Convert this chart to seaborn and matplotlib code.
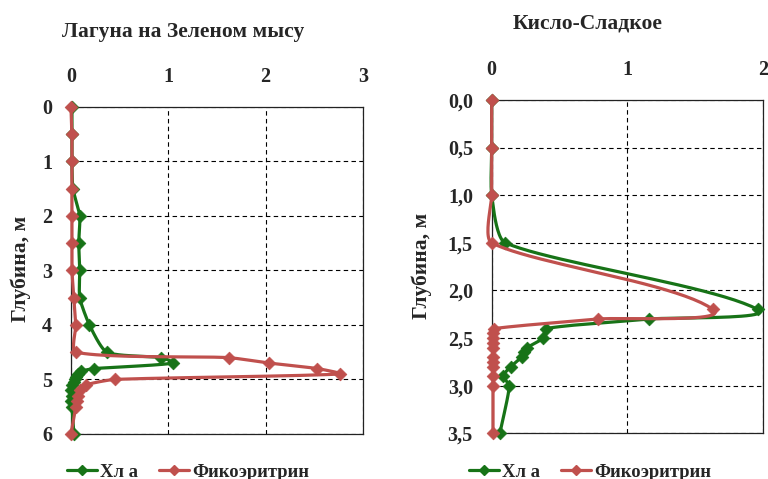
import numpy as np
import pandas as pd
import matplotlib
matplotlib.use("Agg")
import matplotlib.pyplot as plt
import seaborn as sns
from matplotlib.lines import Line2D
from matplotlib.ticker import FuncFormatter

# ---------------- data ----------------
left_title = "Лагуна на Зеленом мысу"
right_title = "Кисло-Сладкое"
series_names = ["Хл а", "Фикоэритрин"]
ylabel = "Глубина, м"

left_depth_chl = [0, 0.5, 1, 1.5, 2, 2.5, 3, 3.5, 4, 4.5, 4.6, 4.7, 4.8, 4.85, 4.9,
                  4.95, 5.0, 5.05, 5.1, 5.2, 5.3, 5.4, 5.5, 6.0]
left_chl = [0.01, 0.01, 0.01, 0.02, 0.09, 0.08, 0.09, 0.09, 0.19, 0.37, 0.93, 1.05, 0.24,
            0.10, 0.07, 0.05, 0.04, 0.03, 0.01, 0.0, 0.01, 0.0, 0.01, 0.03]
left_depth_phy = [0, 0.5, 1, 1.5, 2, 2.5, 3, 3.5, 4, 4.5, 4.6, 4.7, 4.8, 4.9, 5.0,
                  5.1, 5.2, 5.3, 5.4, 5.5, 6.0]
left_phy = [0.0, 0.01, 0.01, 0.01, 0.01, 0.01, 0.01, 0.03, 0.05, 0.05, 1.62, 2.04, 2.53,
            2.77, 0.45, 0.15, 0.09, 0.07, 0.06, 0.05, 0.0]

right_depth_chl = [0, 0.5, 1.0, 1.5, 2.2, 2.3, 2.4, 2.5, 2.6, 2.65, 2.7, 2.8, 2.9, 3.0, 3.5]
right_chl = [0, 0, 0, 0.10, 1.96, 1.16, 0.40, 0.38, 0.26, 0.24, 0.22, 0.14, 0.085, 0.13, 0.06]
right_depth_phy = [0, 0.5, 1.0, 1.5, 2.2, 2.3, 2.4, 2.45, 2.5, 2.55, 2.6, 2.7, 2.75,
                   2.8, 2.9, 3.0, 3.5]
right_phy = [0, 0, 0, 0, 1.63, 0.78, 0.02, 0.01, 0.01, 0.01, 0.01, 0.01, 0.01,
             0.01, 0.01, 0.01, 0.01]

left_xticks = [0, 1, 2, 3]
left_yticks = [0, 1, 2, 3, 4, 5, 6]
right_xticks = [0, 1, 2]
right_yticks = [0.0, 0.5, 1.0, 1.5, 2.0, 2.5, 3.0, 3.5]

GREEN = "#177317"
RED = "#C0504D"

sns.set_style("white")
plt.rcParams["font.family"] = ["Liberation Serif", "DejaVu Serif"]
plt.rcParams["font.weight"] = "bold"


def smooth(x, y, sx, sy, n=24, k=0.2):
    """Excel-like smoothed line in screen-scaled space (length-limited Bezier)."""
    P = np.column_stack([np.asarray(x, float) * sx, np.asarray(y, float) * sy])
    m = len(P)
    tang = []
    for i in range(m):
        a = P[i - 1] if i > 0 else P[i]
        b = P[i + 1] if i + 1 < m else P[i]
        d = b - a
        nrm = np.hypot(*d)
        tang.append(d / nrm if nrm > 0 else np.zeros(2))
    out = [P[0]]
    t = np.linspace(0, 1, n)[1:, None]
    for i in range(m - 1):
        p1, p2 = P[i], P[i + 1]
        L = np.hypot(*(p2 - p1))
        c1 = p1 + tang[i] * L * k
        c2 = p2 - tang[i + 1] * L * k
        seg = ((1 - t) ** 3) * p1 + 3 * ((1 - t) ** 2) * t * c1 + 3 * (1 - t) * t ** 2 * c2 + t ** 3 * p2
        out.extend(seg)
    out = np.array(out)
    return out[:, 0] / sx, out[:, 1] / sy


fig = plt.figure(figsize=(7.68, 4.79), dpi=100)
axL = fig.add_axes([0.0924, 0.094, 0.380, 0.683])
axR = fig.add_axes([0.6402, 0.0954, 0.3537, 0.6959])

TICK_FS = 14.5


def draw(ax, dc, vc, dp, vp, xlim, ylim, xticks, yticks, sx, sy, fmt):
    for d, v, col, z in [(dc, vc, GREEN, 3), (dp, vp, RED, 4)]:
        xs, ys = smooth(v, d, sx, sy)
        df = pd.DataFrame({"v": xs, "d": ys})
        sns.lineplot(data=df, x="v", y="d", sort=False, estimator=None, ax=ax,
                     color=col, lw=2.3, zorder=z, clip_on=False)
        pts = pd.DataFrame({"v": v, "d": d})
        sns.scatterplot(data=pts, x="v", y="d", ax=ax, marker="D", s=42, color=col,
                        edgecolor=col, linewidth=0.5, zorder=z + 0.5, clip_on=False)
    ax.set_xlim(*xlim)
    ax.set_ylim(*ylim)
    ax.xaxis.tick_top()
    ax.set_xticks(xticks)
    ax.set_yticks(yticks)
    ax.xaxis.set_major_formatter(FuncFormatter(lambda v, p: f"{v:.0f}"))
    ax.yaxis.set_major_formatter(FuncFormatter(fmt))
    ax.tick_params(axis="both", length=0, labelsize=TICK_FS)
    ax.tick_params(axis="x", pad=14.6)
    ax.tick_params(axis="y", pad=13.5)
    for lab in ax.get_xticklabels() + ax.get_yticklabels():
        lab.set_fontweight("bold")
    ax.grid(True, linestyle=(0, (4, 3)), color="black", lw=0.8)
    for sp in ax.spines.values():
        sp.set_visible(True)
        sp.set_color("#222222")
        sp.set_linewidth(0.9)
    ax.set_xlabel("")
    ax.set_ylabel("")
    if ax.get_legend():
        ax.get_legend().remove()


draw(axL, left_depth_chl, left_chl, left_depth_phy, left_phy, (0, 3), (6, 0),
     left_xticks, left_yticks, 97.3, 54.6, lambda v, p: f"{v:.0f}")
draw(axR, right_depth_chl, right_chl, right_depth_phy, right_phy, (0, 2), (3.5, 0),
     right_xticks, right_yticks, 136.0, 95.2, lambda v, p: f"{v:.1f}".replace(".", ","))

fig.text(183 / 768, 1 - 32 / 479, left_title, ha="center", va="center",
         fontsize=15.5, fontweight="bold")
fig.text(588 / 768, 1 - 24 / 479, right_title, ha="center", va="center",
         fontsize=15.5, fontweight="bold")
fig.text(21 / 768, 1 - 269 / 479, ylabel, rotation=90, ha="center", va="center",
         fontsize=15.5, fontweight="bold")
fig.text(422 / 768, 1 - 266 / 479, ylabel, rotation=90, ha="center", va="center",
         fontsize=15.5, fontweight="bold")

handles = [Line2D([], [], color=GREEN, lw=2.3, marker="D", markersize=5),
           Line2D([], [], color=RED, lw=2.3, marker="D", markersize=5)]
for cx in (188 / 768, 590 / 768):
    leg = fig.legend(handles, series_names, loc="center", bbox_to_anchor=(cx, 1 - 472 / 479),
                     ncol=2, frameon=False, handlelength=1.6, handletextpad=0.2,
                     columnspacing=1.1, borderpad=0.2,
                     prop={"family": "Liberation Serif", "weight": "bold", "size": 13.4})

fig.savefig("out.png", dpi=100)
